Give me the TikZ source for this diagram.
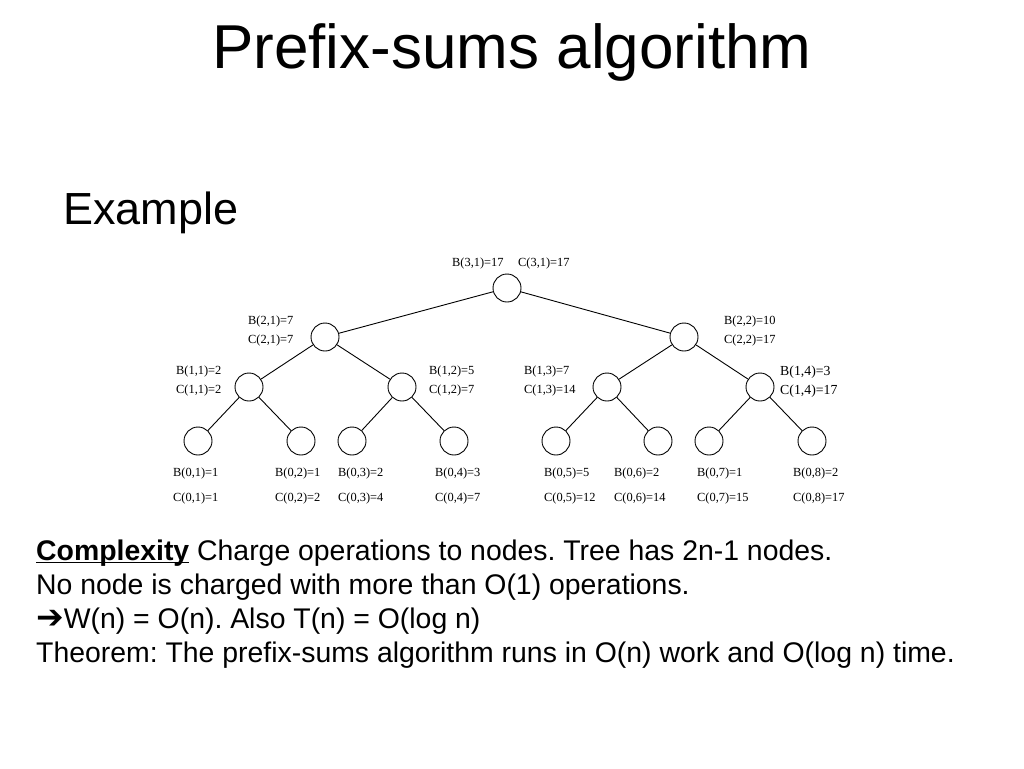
\documentclass[tikz,border=0pt]{standalone}
\usepackage{fontspec}
\setmainfont{Liberation Sans}
\newfontfamily\treefont{Liberation Serif}
\newfontfamily\symfont{DejaVu Sans}
\begin{document}
\frenchspacing
\begin{tikzpicture}[x=1pt,y=-1pt,
  tn/.style={circle,draw,line width=0.9pt,minimum size=28pt,inner sep=0pt},
  edge/.style={line width=0.9pt},
  lab/.style={anchor=west,inner sep=0pt,font=\treefont\fontsize{12.4}{14}\selectfont},
  biglab/.style={lab,font=\treefont\fontsize{13.8}{16}\selectfont},
  body/.style={anchor=west,inner sep=0pt,font=\fontsize{28.4}{32}\selectfont}]
\useasboundingbox (0,0) rectangle (1024,768);
\node[inner sep=0pt,font=\fontsize{62}{70}\selectfont] (title) at (512,52) {Prefix-sums algorithm};
\node[anchor=west,inner sep=0pt,font=\fontsize{45}{50}\selectfont] (ex) at (63,213) {Example};
% tree nodes
\node[tn] (r) at (507,288) {};
\node[tn] (a) at (325,337) {};
\node[tn] (b) at (684,337) {};
\node[tn] (a1) at (249,387) {};
\node[tn] (a2) at (402,387) {};
\node[tn] (b1) at (607,387) {};
\node[tn] (b2) at (760,387) {};
\node[tn] (l1) at (198,441) {};
\node[tn] (l2) at (301,441) {};
\node[tn] (l3) at (352,441) {};
\node[tn] (l4) at (454,441) {};
\node[tn] (l5) at (556,441) {};
\node[tn] (l6) at (658,441) {};
\node[tn] (l7) at (709,441) {};
\node[tn] (l8) at (812,441) {};
\foreach \p/\c in {r/a,r/b,a/a1,a/a2,b/b1,b/b2,a1/l1,a1/l2,a2/l3,a2/l4,b1/l5,b1/l6,b2/l7,b2/l8}
  \draw[edge] (\p) -- (\c);
% labels
\node[lab] (tr1) at (452,264) {B(3,1)=17};
\node[lab] (tr2) at (518,264) {C(3,1)=17};
\node[lab] (ta1) at (248,322) {B(2,1)=7};
\node[lab] (ta2) at (248,341) {C(2,1)=7};
\node[lab] (tb1) at (724,322) {B(2,2)=10};
\node[lab] (tb2) at (724,341) {C(2,2)=17};
\node[lab] (t11) at (176,372) {B(1,1)=2};
\node[lab] (t12) at (176,391) {C(1,1)=2};
\node[lab] (t21) at (429,372) {B(1,2)=5};
\node[lab] (t22) at (429,391) {C(1,2)=7};
\node[lab] (t31) at (524,372) {B(1,3)=7};
\node[lab] (t32) at (524,391) {C(1,3)=14};
\node[biglab] (t41) at (780,372) {B(1,4)=3};
\node[biglab] (t42) at (780,391) {C(1,4)=17};
\foreach \x/\i/\bv/\cv in {173/1/1/1,275/2/1/2,338/3/2/4,435/4/3/7,544/5/5/12,614/6/2/14,697/7/1/15,793/8/2/17}{
  \node[lab] (lb\i) at (\x,474) {B(0,\i)=\bv};
  \node[lab] (lc\i) at (\x,499) {C(0,\i)=\cv};
}
% body text
\node[body] (t1) at (36,553) {\textbf{\underline{\smash{Complexity}}} Charge operations to nodes. Tree has 2n-1 nodes.};
\node[body] (t2) at (36,587) {No node is charged with more than O(1) operations.};
\node[body] (t3) at (36,621) {{\symfont\fontsize{33}{34}\selectfont ➔}W(n) = O(n). Also T(n) = O(log n)};
\node[body] (t4) at (36,655) {Theorem: The prefix-sums algorithm runs in O(n) work and O(log n) time.};
\end{tikzpicture}
\end{document}
